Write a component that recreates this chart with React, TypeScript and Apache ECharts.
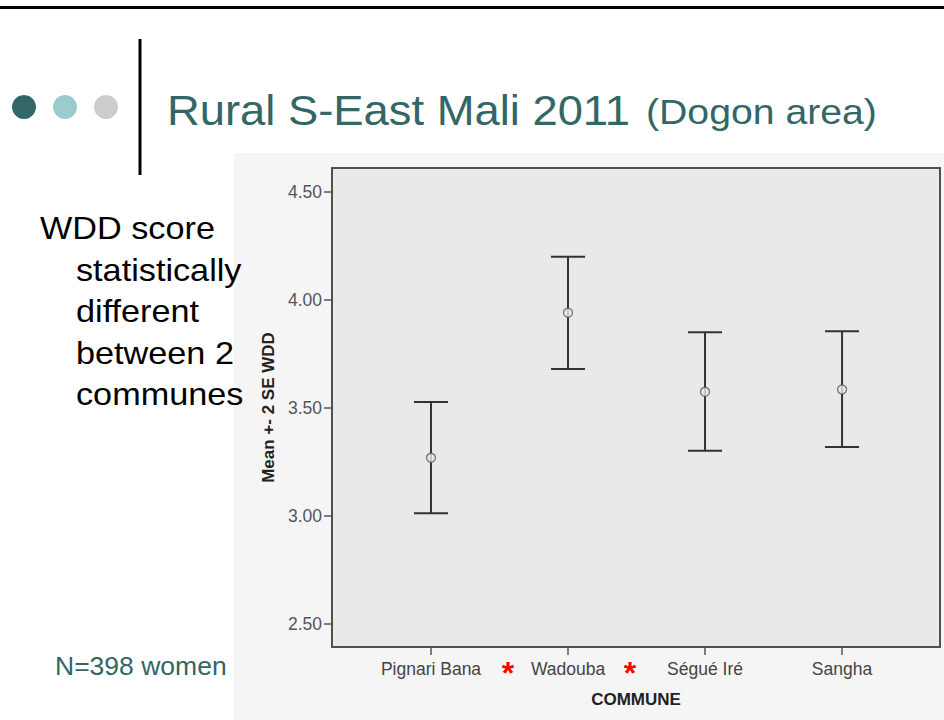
import React, { useEffect, useRef } from "react";
import * as echarts from "echarts";

const categories = ["Pignari Bana", "Wadouba", "Ségué Iré", "Sangha"];
const means = [3.269, 3.94, 3.574, 3.585];
const lowerBounds = [3.013, 3.679, 3.301, 3.319];
const upperBounds = [3.527, 4.199, 3.849, 3.854];
const yTicks = [2.5, 3.0, 3.5, 4.0, 4.5];
const bulletLines = ["WDD score", "statistically", "different", "between 2", "communes"];
const titleMain = "Rural S-East Mali 2011";
const titleSub = "(Dogon area)";
const sampleNote = "N=398 women";
const yAxisName = "Mean +- 2 SE WDD";
const xAxisName = "COMMUNE";

const TEAL = "#336666";
const SLIDE_FONT = "'Liberation Sans', Arial, Helvetica, sans-serif";

export default function App() {
  const ref = useRef<HTMLDivElement>(null);

  useEffect(() => {
    if (!ref.current) return;
    const chart = echarts.init(ref.current, null, { renderer: "svg" });

    const errData = categories.map((_, i) => [i, lowerBounds[i], upperBounds[i]]);
    const meanData = categories.map((_, i) => [i, means[i]]);

    const graphics: any[] = [
      { type: "rect", z: -100, shape: { x: 234, y: 153, width: 710, height: 567 }, style: { fill: "#f5f5f5" } },
      { type: "rect", shape: { x: 0, y: 6, width: 944, height: 3 }, style: { fill: "#000" } },
      { type: "circle", shape: { cx: 24, cy: 107, r: 12 }, style: { fill: "#336666" } },
      { type: "circle", shape: { cx: 65, cy: 107, r: 12 }, style: { fill: "#99cccc" } },
      { type: "circle", shape: { cx: 106, cy: 107, r: 12 }, style: { fill: "#cccccc" } },
      { type: "rect", shape: { x: 138.5, y: 39, width: 3, height: 136 }, style: { fill: "#000" } },
      {
        type: "text", x: 167, y: 110, scaleX: 1.08,
        style: { text: titleMain, fill: TEAL, font: `42px ${SLIDE_FONT}`, align: "left", verticalAlign: "middle" },
      },
      {
        type: "text", x: 646, y: 112, scaleX: 1.12,
        style: { text: titleSub, fill: TEAL, font: `35px ${SLIDE_FONT}`, align: "left", verticalAlign: "middle" },
      },
      {
        type: "text", x: 55, y: 666,
        style: { text: sampleNote, fill: TEAL, font: `26.5px ${SLIDE_FONT}`, align: "left", verticalAlign: "middle" },
      },
      {
        type: "text", x: 508, y: 673,
        style: { text: "*", fill: "#ff0000", font: `bold 32px ${SLIDE_FONT}`, align: "center", verticalAlign: "middle" },
      },
      {
        type: "text", x: 630, y: 673,
        style: { text: "*", fill: "#ff0000", font: `bold 32px ${SLIDE_FONT}`, align: "center", verticalAlign: "middle" },
      },
    ];
    bulletLines.forEach((line, i) => {
      graphics.push({
        type: "text", x: i === 0 ? 40 : 76, y: 228 + i * 41.5, scaleX: 1.07,
        style: { text: line, fill: "#000", font: `32px ${SLIDE_FONT}`, align: "left", verticalAlign: "middle" },
      });
    });

    chart.setOption({
      animation: false,
      backgroundColor: "#ffffff",
      grid: {
        left: 332, top: 168, width: 608, height: 479,
        show: true, backgroundColor: "#e9e9e9", borderColor: "#505050", borderWidth: 2,
      },
      xAxis: {
        type: "value",
        min: -0.7226,
        max: 3.715,
        axisLine: { show: false, onZero: false },
        splitLine: { show: false },
        axisTick: { show: true, customValues: [0, 1, 2, 3], length: 8, lineStyle: { color: "#555", width: 1.5 } },
        axisLabel: {
          customValues: [0, 1, 2, 3],
          formatter: (v: number) => categories[Math.round(v)] ?? "",
          color: "#444", fontSize: 17.5, margin: 13, fontFamily: SLIDE_FONT,
        },
        name: xAxisName,
        nameLocation: "middle",
        nameGap: 44,
        nameTextStyle: { color: "#222", fontWeight: "bold", fontSize: 17, fontFamily: SLIDE_FONT },
      },
      yAxis: {
        type: "value",
        min: 2.394,
        max: 4.609,
        axisLine: { show: false, onZero: false },
        splitLine: { show: false },
        axisTick: { show: true, customValues: yTicks, length: 8, lineStyle: { color: "#555", width: 1.5 } },
        axisLabel: {
          customValues: yTicks,
          formatter: (v: number) => v.toFixed(2),
          color: "#555", fontSize: 17.5, margin: 10, fontFamily: SLIDE_FONT,
        },
        name: yAxisName,
        nameLocation: "middle",
        nameRotate: 90,
        nameGap: 49,
        nameTextStyle: { color: "#222", fontWeight: "bold", fontSize: 17, fontFamily: SLIDE_FONT },
      },
      series: [
        {
          type: "custom",
          data: errData,
          encode: { x: 0, y: [1, 2] },
          renderItem: (params: any, api: any) => {
            const x = api.value(0);
            const lo = api.coord([x, api.value(1)]);
            const hi = api.coord([x, api.value(2)]);
            const hw = 17;
            const style = { stroke: "#333", lineWidth: 2 };
            return {
              type: "group",
              children: [
                { type: "line", shape: { x1: lo[0], y1: lo[1], x2: hi[0], y2: hi[1] }, style },
                { type: "line", shape: { x1: lo[0] - hw, y1: lo[1], x2: lo[0] + hw, y2: lo[1] }, style },
                { type: "line", shape: { x1: hi[0] - hw, y1: hi[1], x2: hi[0] + hw, y2: hi[1] }, style },
              ],
            };
          },
        },
        {
          type: "scatter",
          data: meanData,
          symbol: "circle",
          symbolSize: 9,
          z: 5,
          itemStyle: { color: "#e9e9e9", borderColor: "#555", borderWidth: 1.3 },
        },
      ],
      graphic: graphics,
    });

    return () => chart.dispose();
  }, []);

  return (
    <div
      ref={ref}
      style={{ position: "absolute", left: 0, top: 0, width: 944, height: 720 }}
    />
  );
}
